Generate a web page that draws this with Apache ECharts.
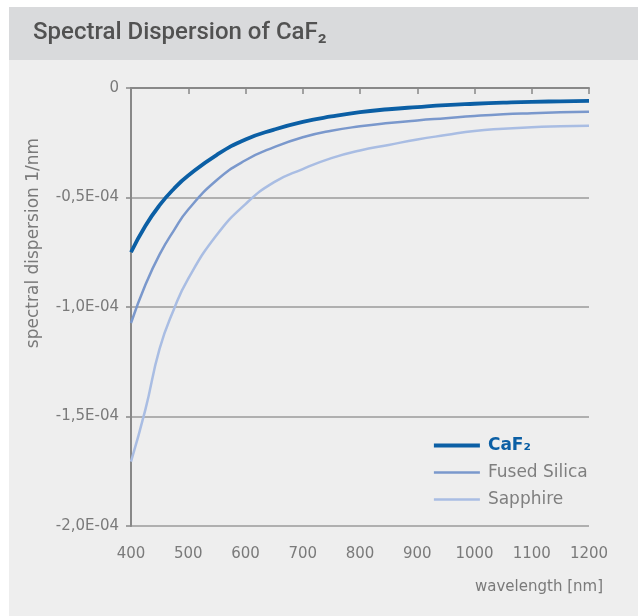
<!DOCTYPE html>
<html><head><meta charset="utf-8">
<script src="https://cdn.jsdelivr.net/npm/echarts@6/dist/echarts.min.js"></script>
<style>html,body{margin:0;padding:0;background:#fff}#c{width:638px;height:616px}</style>
</head><body><div id="c"></div>
<script>
const wavelengths = [400,425,450,475,500,550,600,650,700,750,800,850,900,950,1000,1050,1100,1150,1200];
const caf2 = [-0.75,-0.63,-0.535,-0.46,-0.40,-0.305,-0.235,-0.19,-0.155,-0.13,-0.11,-0.097,-0.087,-0.078,-0.072,-0.067,-0.063,-0.061,-0.059];
const fusedSilica = [-1.073,-0.90,-0.76,-0.65,-0.555,-0.42,-0.33,-0.27,-0.225,-0.195,-0.175,-0.16,-0.148,-0.138,-0.128,-0.12,-0.115,-0.111,-0.108];
const sapphire = [-1.706,-1.47,-1.19,-1.01,-0.87,-0.67,-0.53,-0.43,-0.37,-0.32,-0.285,-0.26,-0.235,-0.215,-0.196,-0.186,-0.179,-0.175,-0.172];
const scale = 1e-4;
const seriesNames = ['CaF₂','Fused Silica','Sapphire'];
const colors = ['#0b5fa5','#7a98cc','#a9bde3'];
const widths = [3.8,2.5,2.5];
const pairs = arr => wavelengths.map((w,i)=>[w, arr[i]*scale]);
const tfont = 'Roboto';
const font = 'DejaVu Sans';
const chart = echarts.init(document.getElementById('c'));
chart.setOption({
  backgroundColor:'#ffffff',
  animation:false,
  graphic:[
    {type:'rect',shape:{x:9,y:7,width:629,height:609},style:{fill:'#eeeeee'},z:-10},
    {type:'rect',shape:{x:9,y:7,width:629,height:53},style:{fill:'#d9dadc'},z:-9},
    {type:'text',x:33,y:33,style:{text:'Spectral Dispersion of CaF₂',font:'500 24px '+tfont,fill:'#525252',verticalAlign:'middle'}},
    {type:'text',x:34,y:243,rotation:Math.PI/2,style:{text:'spectral dispersion 1/nm',font:'17px "'+font+'"',fill:'#7a7a7a',align:'center',verticalAlign:'middle'}},
    {type:'text',x:603,y:587,style:{text:'wavelength [nm]',font:'15px "'+font+'"',fill:'#7a7a7a',align:'right',verticalAlign:'middle'}}
  ],
  grid:{left:131,right:49,top:88,bottom:90},
  legend:{
    orient:'vertical',left:427,top:432,itemWidth:46,itemHeight:14,itemGap:10,
    itemStyle:{opacity:0},
    data:seriesNames.map((n,i)=>({
      name:n,
      lineStyle:{width:widths[i],color:colors[i]},
      textStyle:i===0?{color:colors[0],fontWeight:'bold'}:{color:'#7f7f7f'}
    })),
    textStyle:{fontFamily:font,fontSize:17,padding:[0,0,0,3]}
  },
  xAxis:{
    type:'value',min:400,max:1200,interval:100,
    axisLine:{lineStyle:{color:'#888',width:2}},
    axisTick:{show:true,length:6,lineStyle:{color:'#888',width:1.5}},
    axisLabel:{color:'#7a7a7a',fontSize:15,fontFamily:font,margin:21,formatter:v=>String(v)},
    splitLine:{show:false}
  },
  yAxis:{
    type:'value',min:-2e-4,max:0,interval:0.5e-4,
    axisLine:{show:true,lineStyle:{color:'#888',width:2}},
    axisTick:{show:true,length:5,lineStyle:{color:'#888',width:1.5}},
    axisLabel:{color:'#7a7a7a',fontSize:15,fontFamily:font,margin:12,
      formatter:v=>{ if(Math.abs(v)<1e-12) return '0'; return (v/scale).toFixed(1).replace('.',',')+'E-04'; }},
    splitLine:{show:true,lineStyle:{color:'#9a9a9a',width:1.5}}
  },
  series:[2,1,0].map(i=>({
    name:seriesNames[i],type:'line',smooth:true,symbol:'none',
    data:pairs([caf2,fusedSilica,sapphire][i]),
    lineStyle:{color:colors[i],width:widths[i]},itemStyle:{color:colors[i]},z:5-i
  }))
});
</script></body></html>
